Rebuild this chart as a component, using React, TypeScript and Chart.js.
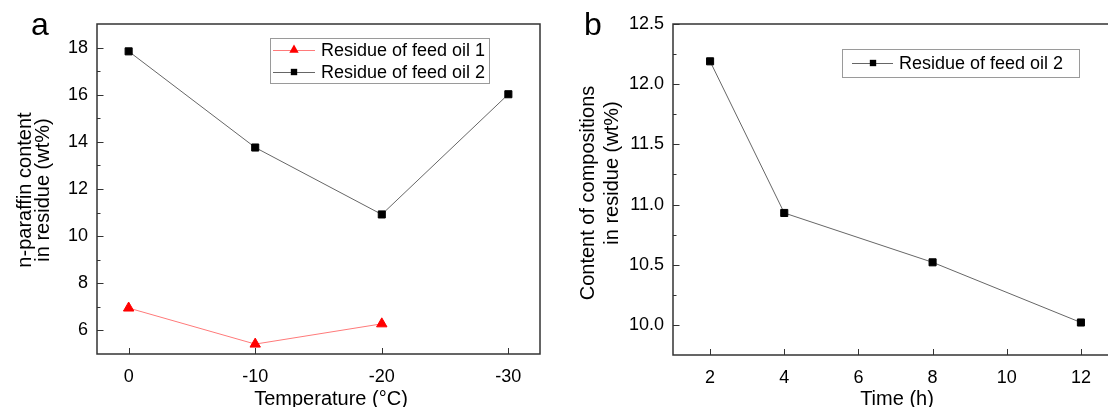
import { useEffect, useRef } from "react";
import { Chart, registerables } from "chart.js";

Chart.register(...registerables);

const FONT = "'Liberation Sans', Arial, Helvetica, sans-serif";

// Panel a: n-paraffin content vs. temperature
const tempTicks = [0, -10, -20, -30];
const tempOil1 = [0, -10, -20];
const paraffinOil1 = [6.95, 5.42, 6.28];
const tempOil2 = [0, -10, -20, -30];
const paraffinOil2 = [17.84, 13.76, 10.92, 16.02];
const paraffinTicks = [6, 8, 10, 12, 14, 16, 18];
const paraffinMinor = [7, 9, 11, 13, 15, 17];

// Panel b: composition content vs. time
const timeHours = [2, 4, 8, 12];
const contentOil2 = [12.19, 10.93, 10.52, 10.02];
const timeTicks = [2, 4, 6, 8, 10, 12];
const contentTicks = [10.0, 10.5, 11.0, 11.5, 12.0, 12.5];
const contentMinor = [10.25, 10.75, 11.25, 11.75, 12.25];

const oil1Label = "Residue of feed oil 1";
const oil2Label = "Residue of feed oil 2";

type TextItem = {
  text: string;
  x: number;
  y: number;
  size: number;
  align: CanvasTextAlign;
  rotate?: boolean;
};

type LegendBox = {
  x: number;
  y: number;
  w: number;
  h: number;
  rows: number[];
  lineX: [number, number];
  markX: number;
  textX: number;
};

type Deco = {
  xTicks: number[];
  yTicks: number[];
  yMinor: number[];
  legend: LegendBox;
  texts: TextItem[];
};

function drawMarker(
  ctx: CanvasRenderingContext2D,
  style: string,
  x: number,
  y: number,
  r: number,
  color: string
) {
  ctx.fillStyle = color;
  ctx.beginPath();
  if (style === "triangle") {
    ctx.moveTo(x, y - r);
    ctx.lineTo(x + r * 0.866, y + r * 0.5);
    ctx.lineTo(x - r * 0.866, y + r * 0.5);
    ctx.closePath();
  } else {
    const s = r * Math.SQRT1_2;
    ctx.rect(x - s, y - s, 2 * s, 2 * s);
  }
  ctx.fill();
}

// Inward tick marks, full frame, boxed legend and free-standing labels
const decoPlugin = {
  id: "deco",
  afterDatasetsDraw(chart: any, _args: any, o: Deco) {
    const ctx: CanvasRenderingContext2D = chart.ctx;
    const { left, right, top, bottom } = chart.chartArea;
    const xs = chart.scales.x;
    const ys = chart.scales.y;
    ctx.save();

    ctx.strokeStyle = "#333";
    ctx.lineWidth = 1;
    ctx.beginPath();
    for (const v of o.xTicks) {
      const px = Math.round(xs.getPixelForValue(v)) + 0.5;
      ctx.moveTo(px, bottom);
      ctx.lineTo(px, bottom - 6);
    }
    for (const v of o.yTicks) {
      const py = Math.round(ys.getPixelForValue(v)) + 0.5;
      ctx.moveTo(left, py);
      ctx.lineTo(left + 6.5, py);
    }
    for (const v of o.yMinor) {
      const py = Math.round(ys.getPixelForValue(v)) + 0.5;
      ctx.moveTo(left, py);
      ctx.lineTo(left + 3.5, py);
    }
    ctx.stroke();

    ctx.lineWidth = 1.5;
    ctx.strokeRect(left, top, right - left, bottom - top);

    // legend
    const lg = o.legend;
    ctx.lineWidth = 1;
    ctx.strokeStyle = "#9a9a9a";
    ctx.strokeRect(lg.x + 0.5, lg.y + 0.5, lg.w, lg.h);
    const sets = chart.data.datasets;
    lg.rows.forEach((ry: number, i: number) => {
      const ds = sets[i];
      ctx.strokeStyle = ds.borderColor;
      ctx.lineWidth = 1;
      ctx.beginPath();
      ctx.moveTo(lg.lineX[0], ry + 0.5);
      ctx.lineTo(lg.lineX[1], ry + 0.5);
      ctx.stroke();
      drawMarker(ctx, ds.pointStyle, lg.markX, ry, ds.pointRadius * 0.9, ds.pointBackgroundColor);
      ctx.fillStyle = "#000";
      ctx.font = `18px ${FONT}`;
      ctx.textAlign = "left";
      ctx.textBaseline = "middle";
      ctx.fillText(ds.label, lg.textX, ry + 1);
    });

    // titles and panel letter
    ctx.fillStyle = "#000";
    ctx.textBaseline = "alphabetic";
    for (const t of o.texts) {
      ctx.save();
      ctx.font = `${t.size}px ${FONT}`;
      ctx.textAlign = t.align;
      ctx.translate(t.x, t.y);
      if (t.rotate) ctx.rotate(-Math.PI / 2);
      ctx.fillText(t.text, 0, 0);
      ctx.restore();
    }
    ctx.restore();
  },
};

const tickFont = { family: FONT, size: 18 };

function configA(): any {
  return {
    type: "line",
    data: {
      datasets: [
        {
          label: oil1Label,
          data: tempOil1.map((x, i) => ({ x, y: paraffinOil1[i] })),
          borderColor: "#ff7a7a",
          borderWidth: 1,
          pointStyle: "triangle",
          pointRadius: 6,
          pointBackgroundColor: "#ff0000",
          pointBorderColor: "#ff0000",
          pointBorderWidth: 1,
          tension: 0,
        },
        {
          label: oil2Label,
          data: tempOil2.map((x, i) => ({ x, y: paraffinOil2[i] })),
          borderColor: "#666666",
          borderWidth: 1,
          pointStyle: "rect",
          pointRadius: 5,
          pointBackgroundColor: "#000000",
          pointBorderColor: "#000000",
          pointBorderWidth: 1,
          tension: 0,
        },
      ],
    },
    options: {
      responsive: false,
      animation: false,
      events: [],
      layout: { padding: { top: 24, right: 20, left: 0, bottom: 0 } },
      plugins: {
        legend: { display: false },
        tooltip: { enabled: false },
        deco: {
          xTicks: tempTicks,
          yTicks: paraffinTicks,
          yMinor: paraffinMinor,
          legend: {
            x: 270,
            y: 38,
            w: 219,
            h: 45,
            rows: [50, 72],
            lineX: [273, 315],
            markX: 294,
            textX: 321,
          },
          texts: [
            { text: "a", x: 31, y: 35, size: 32, align: "left" },
            { text: "n-paraffin content", x: 31, y: 190, size: 20, align: "center", rotate: true },
            { text: "in residue (wt%)", x: 49, y: 190, size: 20, align: "center", rotate: true },
            { text: "Temperature (°C)", x: 331, y: 405, size: 20, align: "center" },
          ],
        },
      },
      scales: {
        x: {
          type: "linear",
          min: -32.5,
          max: 2.5,
          reverse: true,
          afterBuildTicks: (s: any) => {
            s.ticks = tempTicks.map((v) => ({ value: v }));
          },
          afterFit: (s: any) => {
            s.height = 53;
          },
          grid: { display: false, drawTicks: false },
          border: { display: false },
          ticks: {
            font: tickFont,
            color: "#000",
            padding: 12,
            maxRotation: 0,
            autoSkip: false,
            callback: (v: any) => String(v),
          },
        },
        y: {
          type: "linear",
          min: 5,
          max: 19,
          afterBuildTicks: (s: any) => {
            s.ticks = paraffinTicks.map((v) => ({ value: v }));
          },
          afterFit: (s: any) => {
            s.width = 97;
          },
          grid: { display: false, drawTicks: false },
          border: { display: false },
          ticks: {
            font: tickFont,
            color: "#000",
            padding: 9,
            autoSkip: false,
            callback: (v: any) => String(v),
          },
        },
      },
    },
    plugins: [decoPlugin],
  };
}

function configB(): any {
  return {
    type: "line",
    data: {
      datasets: [
        {
          label: oil2Label,
          data: timeHours.map((x, i) => ({ x, y: contentOil2[i] })),
          borderColor: "#666666",
          borderWidth: 1,
          pointStyle: "rect",
          pointRadius: 5,
          pointBackgroundColor: "#000000",
          pointBorderColor: "#000000",
          pointBorderWidth: 1,
          tension: 0,
        },
      ],
    },
    options: {
      responsive: false,
      animation: false,
      events: [],
      layout: { padding: { top: 24, right: 22, left: 0, bottom: 0 } },
      plugins: {
        legend: { display: false },
        tooltip: { enabled: false },
        deco: {
          xTicks: timeTicks,
          yTicks: contentTicks,
          yMinor: contentMinor,
          legend: {
            x: 282,
            y: 49,
            w: 237,
            h: 28,
            rows: [63],
            lineX: [292, 333],
            markX: 313,
            textX: 339,
          },
          texts: [
            { text: "b", x: 24, y: 35, size: 32, align: "left" },
            { text: "Content of compositions", x: 34, y: 193, size: 20, align: "center", rotate: true },
            { text: "in residue (wt%)", x: 58, y: 173, size: 20, align: "center", rotate: true },
            { text: "Time (h)", x: 337, y: 405, size: 20, align: "center" },
          ],
        },
      },
      scales: {
        x: {
          type: "linear",
          min: 1,
          max: 13,
          afterBuildTicks: (s: any) => {
            s.ticks = timeTicks.map((v) => ({ value: v }));
          },
          afterFit: (s: any) => {
            s.height = 52;
          },
          grid: { display: false, drawTicks: false },
          border: { display: false },
          ticks: {
            font: tickFont,
            color: "#000",
            padding: 12,
            maxRotation: 0,
            autoSkip: false,
            callback: (v: any) => String(v),
          },
        },
        y: {
          type: "linear",
          min: 9.75,
          max: 12.5,
          afterBuildTicks: (s: any) => {
            s.ticks = contentTicks.map((v) => ({ value: v }));
          },
          afterFit: (s: any) => {
            s.width = 113;
          },
          grid: { display: false, drawTicks: false },
          border: { display: false },
          ticks: {
            font: tickFont,
            color: "#000",
            padding: 9,
            autoSkip: false,
            callback: (v: any) => Number(v).toFixed(1),
          },
        },
      },
    },
    plugins: [decoPlugin],
  };
}

export default function App() {
  const refA = useRef<HTMLCanvasElement>(null);
  const refB = useRef<HTMLCanvasElement>(null);

  useEffect(() => {
    const a = new Chart(refA.current!, configA());
    const b = new Chart(refB.current!, configB());
    return () => {
      a.destroy();
      b.destroy();
    };
  }, []);

  return (
    <div
      style={{
        position: "absolute",
        left: 0,
        top: 0,
        width: 1108,
        height: 407,
        overflow: "hidden",
        background: "#fff",
      }}
    >
      <canvas
        ref={refA}
        width={560}
        height={407}
        style={{ position: "absolute", left: 0, top: 0, width: 560, height: 407 }}
      />
      <canvas
        ref={refB}
        width={580}
        height={407}
        style={{ position: "absolute", left: 560, top: 0, width: 580, height: 407 }}
      />
    </div>
  );
}
